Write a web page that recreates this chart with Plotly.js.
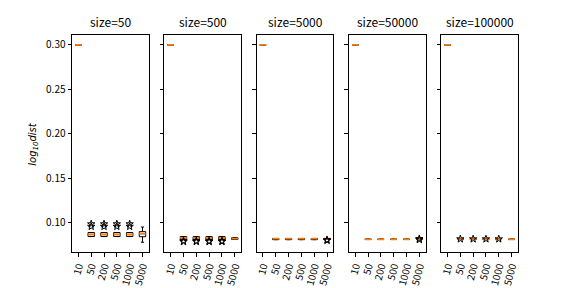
<!DOCTYPE html>
<html>
<head>
<meta charset="utf-8">
<script src="https://cdn.plot.ly/plotly-3.0.1.min.js"></script>
<style>html,body{margin:0;padding:0;background:#fff;}#chart{width:576px;height:288px;}</style>
</head>
<body>
<div id="chart"></div>
<script>
// ---- data ----
const iters = ['10', '50', '200', '500', '1000', '5000'];
const sizes = [50, 500, 5000, 50000, 100000];

// box statistics, one row per size panel, one column per iteration count
const medians = [
  [0.300, 0.0866, 0.0866, 0.0866, 0.0866, 0.0875],
  [0.300, 0.0827, 0.0827, 0.0827, 0.0827, 0.0820],
  [0.300, 0.0819, 0.0819, 0.0819, 0.0819, 0.0819],
  [0.300, 0.0812, 0.0812, 0.0812, 0.0812, 0.0812],
  [0.300, 0.0812, 0.0812, 0.0812, 0.0812, 0.0812]
];
const q1s = [
  [0.300, 0.0843, 0.0843, 0.0843, 0.0843, 0.0841],
  [0.300, 0.0808, 0.0808, 0.0808, 0.0808, 0.0810],
  [0.300, 0.0808, 0.0808, 0.0808, 0.0808, 0.0819],
  [0.300, 0.0812, 0.0812, 0.0812, 0.0812, 0.0812],
  [0.300, 0.0812, 0.0812, 0.0812, 0.0812, 0.0812]
];
const q3s = [
  [0.300, 0.0888, 0.0888, 0.0888, 0.0888, 0.0898],
  [0.300, 0.0842, 0.0842, 0.0842, 0.0842, 0.0830],
  [0.300, 0.0821, 0.0821, 0.0821, 0.0821, 0.0819],
  [0.300, 0.0812, 0.0812, 0.0812, 0.0812, 0.0812],
  [0.300, 0.0812, 0.0812, 0.0812, 0.0812, 0.0812]
];
const lowWhiskers = [
  [0.300, 0.0843, 0.0843, 0.0843, 0.0843, 0.0779],
  [0.300, 0.0808, 0.0808, 0.0808, 0.0808, 0.0810],
  [0.300, 0.0808, 0.0808, 0.0808, 0.0808, 0.0819],
  [0.300, 0.0812, 0.0812, 0.0812, 0.0812, 0.0812],
  [0.300, 0.0812, 0.0812, 0.0812, 0.0812, 0.0812]
];
const highWhiskers = [
  [0.300, 0.0888, 0.0888, 0.0888, 0.0888, 0.0950],
  [0.300, 0.0842, 0.0842, 0.0842, 0.0842, 0.0830],
  [0.300, 0.0821, 0.0821, 0.0821, 0.0821, 0.0819],
  [0.300, 0.0812, 0.0812, 0.0812, 0.0812, 0.0812],
  [0.300, 0.0812, 0.0812, 0.0812, 0.0812, 0.0812]
];
// outliers (fliers): category and value per panel
const outlierX = [
  ['50', '50', '200', '200', '500', '500', '1000', '1000'],
  ['50', '50', '200', '200', '500', '500', '1000', '1000'],
  ['5000', '5000'],
  ['5000', '5000'],
  ['50', '200', '500', '1000']
];
const outlierY = [
  [0.0984, 0.0956, 0.0984, 0.0956, 0.0984, 0.0956, 0.0984, 0.0956],
  [0.0792, 0.0785, 0.0792, 0.0785, 0.0792, 0.0785, 0.0792, 0.0785],
  [0.0806, 0.0798],
  [0.0818, 0.0807],
  [0.0815, 0.0815, 0.0815, 0.0815]
];
const yTicks = [0.10, 0.15, 0.20, 0.25, 0.30];

// ---- build figure ----
const FONT = '"Noto Sans CJK SC", "DejaVu Sans", sans-serif';
const traces = [];
const layout = {
  width: 576, height: 288,
  margin: {l: 72, r: 58, t: 35, b: 36, pad: 0},
  paper_bgcolor: '#ffffff', plot_bgcolor: '#ffffff',
  showlegend: false, boxmode: 'overlay',
  font: {family: FONT, size: 10, color: '#000'},
  annotations: []
};
const step = 0.2069, w = 0.1724;
sizes.forEach((s, p) => {
  const xa = p === 0 ? 'x' : 'x' + (p + 1);
  const ya = p === 0 ? 'y' : 'y' + (p + 1);
  traces.push({
    type: 'box', x: iters, q1: q1s[p], median: medians[p], q3: q3s[p],
    lowerfence: lowWhiskers[p], upperfence: highWhiskers[p],
    xaxis: xa, yaxis: ya, width: 0.5, whiskerwidth: 0.5, boxpoints: false,
    line: {color: '#000', width: 1}, fillcolor: 'rgba(0,0,0,0)', hoverinfo: 'skip'
  });
  traces.push({
    type: 'scatter', mode: 'markers', x: outlierX[p], y: outlierY[p],
    xaxis: xa, yaxis: ya, hoverinfo: 'skip',
    marker: {symbol: 'star-open', size: 5.5, color: '#000', line: {width: 1, color: '#000'}}
  });
  traces.push({
    type: 'box', x: iters, q1: medians[p], median: medians[p], q3: medians[p],
    lowerfence: medians[p], upperfence: medians[p],
    xaxis: xa, yaxis: ya, width: 0.5, whiskerwidth: 0, boxpoints: false,
    line: {color: '#ff7f0e', width: 1.8}, fillcolor: 'rgba(0,0,0,0)', hoverinfo: 'skip'
  });
  const d0 = p * step;
  const xKey = p === 0 ? 'xaxis' : 'xaxis' + (p + 1);
  const yKey = p === 0 ? 'yaxis' : 'yaxis' + (p + 1);
  layout[xKey] = {
    domain: [d0, d0 + w], anchor: ya, type: 'category',
    categoryorder: 'array', categoryarray: iters, range: [-0.5, 5.5],
    showline: true, mirror: true, linecolor: '#000', linewidth: 1,
    ticks: 'outside', ticklen: 3.5, tickwidth: 1, tickcolor: '#000',
    tickangle: -75, showgrid: false, zeroline: false,
    tickfont: {family: FONT, size: 10, color: '#000'}
  };
  layout[yKey] = {
    anchor: xa, range: [0.0669, 0.3111],
    tickvals: yTicks, ticktext: yTicks.map(v => v.toFixed(2)),
    showticklabels: p === 0,
    showline: true, mirror: true, linecolor: '#000', linewidth: 1,
    ticks: 'outside', ticklen: 3.5, tickwidth: 1, tickcolor: '#000',
    showgrid: false, zeroline: false,
    tickfont: {family: FONT, size: 10, color: '#000'}
  };
  if (p > 0) layout[yKey].matches = 'y';
  layout.annotations.push({
    text: 'size=' + s, xref: 'paper', yref: 'paper',
    x: d0 + w / 2, y: 1, xanchor: 'center', yanchor: 'bottom', yshift: 3,
    showarrow: false, font: {family: FONT, size: 12, color: '#000'}
  });
});
layout.annotations.push({
  text: '<i>log<sub>10</sub>dist</i>', xref: 'paper', yref: 'paper',
  x: -0.087, y: 0.5, xanchor: 'center', yanchor: 'middle', textangle: -90,
  showarrow: false, font: {family: '"DejaVu Sans", sans-serif', size: 10, color: '#000'}
});

Plotly.newPlot('chart', traces, layout, {staticPlot: true, displayModeBar: false});
</script>
</body>
</html>
